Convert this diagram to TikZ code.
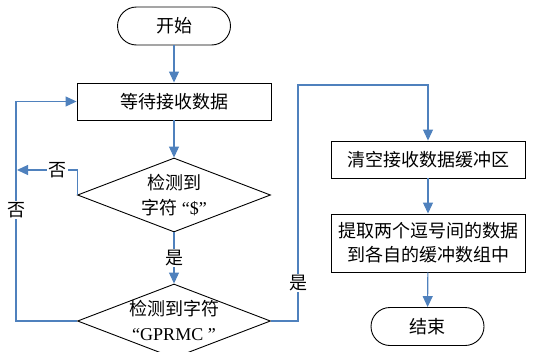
\documentclass[tikz,border=0pt]{standalone}
\usepackage{fontspec}
\setmainfont{Liberation Serif}
\newfontfamily\cjk{Noto Sans CJK SC}
\usetikzlibrary{arrows.meta,shapes.geometric}
\definecolor{lineblue}{HTML}{4F81BD}
\tikzset{
  box/.style={draw=black, line width=0.9pt, rectangle, minimum width=194pt, inner sep=0pt, align=center, font=\fontsize{18}{24}\selectfont\cjk},
  term/.style={draw=black, line width=0.9pt, rectangle, rounded corners=19pt, minimum width=113pt, minimum height=38pt, inner sep=0pt, font=\fontsize{18}{24}\selectfont\cjk},
  dia/.style={draw=black, line width=0.9pt, diamond, minimum width=193pt, minimum height=74pt, inner sep=0pt},
  dtext/.style={align=center, inner sep=0pt, font=\fontsize{18}{25}\selectfont},
  arr/.style={draw=lineblue, line width=1.1pt, -{Triangle[length=11pt,width=10pt]}},
  ln/.style={draw=lineblue, line width=1.1pt},
  lbl/.style={fill=white, inner sep=1.5pt, font=\fontsize{18}{20}\selectfont\cjk}
}
\begin{document}
\begin{tikzpicture}[x=1pt,y=-1pt]
\useasboundingbox (0,0) rectangle (533,351);
\node[term] (start) at (174,26) {开始};
\node[box, minimum height=37pt] (wait) at (174,101.5) {等待接收数据};
\node[dia] (d1) at (174,195) {};
\node[dtext] (d1t) at (174,195) {{\cjk 检测到}\\{\cjk 字符} “\$”};
\node[dia] (d2) at (174,321) {};
\node[dtext] (d2t) at (174,320) {{\cjk 检测到字符}\\“GPRMC ”};
\node[box, minimum height=37pt] (clear) at (428,159.5) {清空接收数据缓冲区};
\node[box, minimum height=58pt] (extract) at (428,243) {提取两个逗号间的数据\\到各自的缓冲数组中};
\node[term] (end) at (427.5,326.5) {结束};
\coordinate (n1) at (17,170);
\coordinate (lx) at (16,321);
\coordinate (rx) at (298,321);
\coordinate (ry) at (298,85);

\draw[arr] (start) -- (wait);
\draw[arr] (wait) -- (d1);
\draw[arr] (d1) -- node[lbl, pos=0.5] {是} (d2);
\draw[arr] (d1.west) |- (n1);
\node[lbl] at (57,170) {否};
\draw[arr] (d2.west) -- (lx) |- (wait.west);
\node[lbl] at (16,210) {否};
\draw[arr] (d2.east) -- (rx) -- (ry) -| (clear.north);
\node[lbl] at (298,283) {是};
\draw[arr] (clear) -- (extract);
\draw[arr] (extract) -- (end);
\end{tikzpicture}
\end{document}
